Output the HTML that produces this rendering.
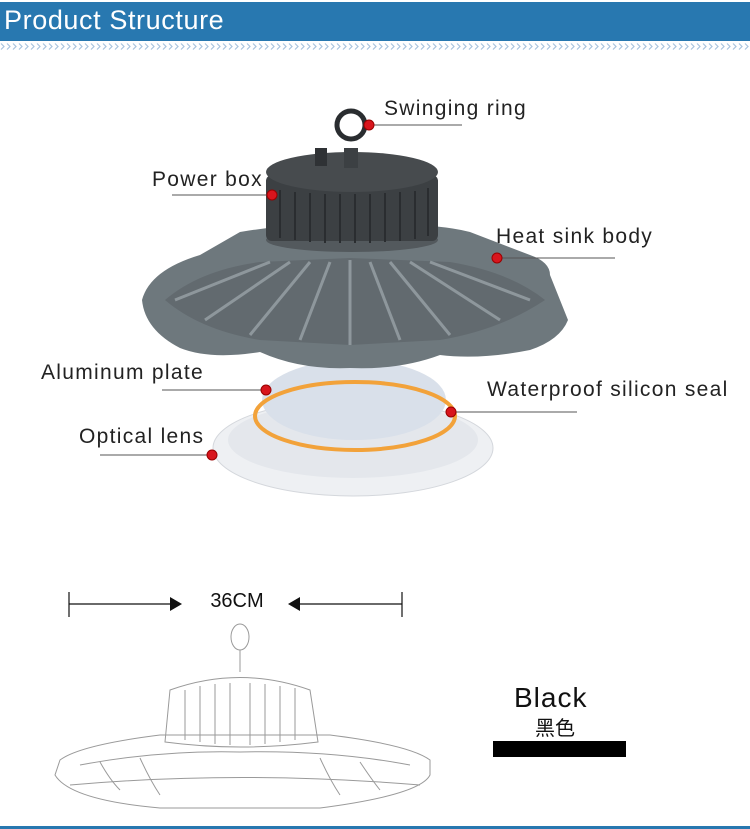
<!DOCTYPE html>
<html><head><meta charset="utf-8"><style>
html,body{margin:0;padding:0;background:#fff;}
body{width:750px;height:829px;position:relative;overflow:hidden;font-family:"Liberation Sans","Noto Sans CJK SC",sans-serif;}
.hdr{position:absolute;left:0;top:2px;width:750px;height:39px;background:#2878b0;}
.hdr span{position:absolute;left:4px;top:3px;color:#fff;font-size:27px;letter-spacing:0.6px;font-family:"Liberation Sans",sans-serif;}
.lbl{position:absolute;font-size:21px;color:#222;letter-spacing:1.3px;}
.bot{position:absolute;left:0;top:826px;width:750px;height:3px;background:#2878b0;}
</style></head><body>
<div class="hdr"><span>Product Structure</span></div>

<svg width="750" height="829" style="position:absolute;left:0;top:0">
 <defs>
  <pattern id="ch" x="0" y="43" width="6" height="7" patternUnits="userSpaceOnUse">
   <path d="M1,0.5 L4,3.5 L1,6.5" fill="none" stroke="#a9c4de" stroke-width="1.2"/>
  </pattern>
 </defs>
 <rect x="0" y="43" width="750" height="7" fill="url(#ch)"/>
 <ellipse cx="353" cy="448" rx="140" ry="48" fill="#eef0f3" stroke="#d4d7dc"/>
 <ellipse cx="353" cy="440" rx="125" ry="38" fill="#e4e7ec"/>
 <ellipse cx="354" cy="400" rx="92" ry="40" fill="#d9e0ea"/>
 <ellipse cx="355" cy="416" rx="100" ry="34" fill="none" stroke="#f2a23a" stroke-width="4"/>
 <path d="M142,300 Q150,270 200,255 L240,232 Q300,222 350,225 Q430,222 470,232 L530,255 Q550,262 550,275 L568,320 Q560,340 530,350 Q480,360 440,355 Q400,370 350,368 Q300,370 260,352 Q210,360 180,348 Q145,330 142,300 Z" fill="#6e787d"/>
 <path d="M165,300 Q200,270 260,262 L350,258 L450,262 Q510,272 545,300 Q500,330 440,340 L350,345 L260,340 Q200,330 165,300Z" fill="#626a6f"/>
 <g stroke="#8e979c" stroke-width="3">
  <line x1="350" y1="260" x2="350" y2="345"/><line x1="330" y1="262" x2="300" y2="340"/><line x1="370" y1="262" x2="400" y2="340"/>
  <line x1="310" y1="262" x2="250" y2="335"/><line x1="390" y1="262" x2="450" y2="335"/>
  <line x1="290" y1="262" x2="205" y2="320"/><line x1="410" y1="262" x2="500" y2="320"/>
  <line x1="270" y1="262" x2="175" y2="300"/><line x1="430" y1="262" x2="530" y2="300"/>
 </g>
 <ellipse cx="352" cy="240" rx="86" ry="12" fill="#53595d"/>
 <rect x="266" y="175" width="172" height="66" rx="6" fill="#3c4043"/>
 <ellipse cx="352" cy="172" rx="86" ry="20" fill="#474b4e"/>
 <g stroke="#2a2d30" stroke-width="2">
  <line x1="280" y1="190" x2="280" y2="238"/><line x1="295" y1="192" x2="295" y2="240"/><line x1="310" y1="193" x2="310" y2="242"/><line x1="325" y1="194" x2="325" y2="243"/><line x1="340" y1="194" x2="340" y2="243"/><line x1="355" y1="194" x2="355" y2="243"/><line x1="370" y1="194" x2="370" y2="243"/><line x1="385" y1="193" x2="385" y2="242"/><line x1="400" y1="192" x2="400" y2="241"/><line x1="415" y1="191" x2="415" y2="239"/><line x1="428" y1="188" x2="428" y2="236"/>
 </g>
 <rect x="315" y="148" width="12" height="18" fill="#2f3235"/>
 <rect x="344" y="148" width="14" height="20" fill="#3c4043"/>
 <circle cx="351" cy="125" r="14" fill="none" stroke="#2a2d30" stroke-width="5"/>
 <g stroke="#555" stroke-width="1" fill="none">
  <line x1="370" y1="125" x2="462" y2="125"/>
  <line x1="172" y1="195" x2="272" y2="195"/>
  <line x1="497" y1="258" x2="615" y2="258"/>
  <line x1="162" y1="390" x2="266" y2="390"/>
  <line x1="451" y1="412" x2="577" y2="412"/>
  <line x1="100" y1="455" x2="212" y2="455"/>
 </g>
 <g fill="#d8151d" stroke="#900" stroke-width="1">
  <circle cx="369" cy="125" r="5"/><circle cx="272" cy="195" r="5"/><circle cx="497" cy="258" r="5"/>
  <circle cx="266" cy="390" r="5"/><circle cx="451" cy="412" r="5"/><circle cx="212" cy="455" r="5"/>
 </g>
 <g stroke="#111" stroke-width="1.2">
  <line x1="69" y1="592" x2="69" y2="617"/><line x1="69" y1="604" x2="172" y2="604"/>
  <line x1="402" y1="592" x2="402" y2="617"/><line x1="298" y1="604" x2="402" y2="604"/>
 </g>
 <polygon points="170,597 182,604 170,611" fill="#111"/>
 <polygon points="300,597 288,604 300,611" fill="#111"/>
 <text x="237" y="607" font-size="20" text-anchor="middle" fill="#111" font-family="Liberation Sans">36CM</text>
 <g stroke="#9a9a9a" stroke-width="1" fill="none">
  <ellipse cx="240" cy="637" rx="9" ry="13"/>
  <line x1="240" y1="650" x2="240" y2="672"/>
  <path d="M170,690 Q240,665 310,690 L318,742 Q240,752 165,742Z"/>
  <line x1="185" y1="690" x2="185" y2="740"/><line x1="200" y1="686" x2="200" y2="742"/><line x1="215" y1="684" x2="215" y2="744"/><line x1="230" y1="683" x2="230" y2="745"/><line x1="250" y1="683" x2="250" y2="745"/><line x1="265" y1="684" x2="265" y2="744"/><line x1="280" y1="686" x2="280" y2="742"/><line x1="295" y1="688" x2="295" y2="740"/>
  <path d="M60,760 Q80,745 160,735 L330,735 Q410,745 430,760 L430,775 Q420,795 320,808 L160,808 Q70,800 55,775Z"/>
  <path d="M80,765 Q160,750 240,752 Q330,750 410,765"/>
  <path d="M70,785 Q240,770 420,785"/>
  <path d="M100,762 Q110,780 120,790 M140,758 Q150,780 160,795 M320,758 Q330,780 340,795 M360,762 Q372,780 380,790"/>
 </g>
 <rect x="493" y="741" width="133" height="16" fill="#000"/>
</svg>

<div class="lbl" style="left:384px;top:97px;">Swinging ring</div>
<div class="lbl" style="left:152px;top:168px;">Power box</div>
<div class="lbl" style="left:496px;top:225px;">Heat sink body</div>
<div class="lbl" style="left:41px;top:361px;">Aluminum plate</div>
<div class="lbl" style="left:487px;top:378px;">Waterproof silicon seal</div>
<div class="lbl" style="left:79px;top:425px;">Optical lens</div>
<div style="position:absolute;left:514px;top:682px;font-size:28px;color:#111;letter-spacing:1px;">Black</div>
<div style="position:absolute;left:535px;top:716px;font-size:20px;color:#111;font-family:'Noto Sans CJK SC',sans-serif;line-height:22px;">黑色</div>
<div class="bot"></div>
</body></html>
